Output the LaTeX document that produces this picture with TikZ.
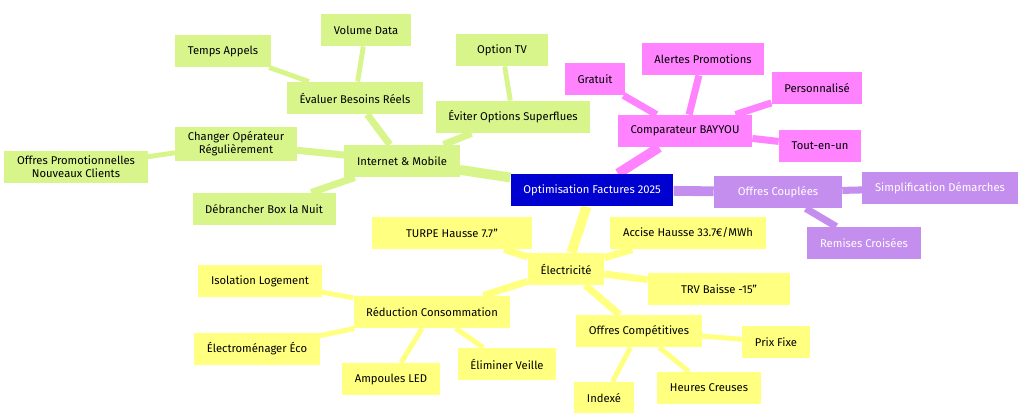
\documentclass[tikz,border=0pt]{standalone}
\usepackage{fontspec}
\setmainfont{Fira Sans}
\usetikzlibrary{backgrounds}
\definecolor{rootblue}{HTML}{0000D0}
\definecolor{mmpurple}{HTML}{C48EEE}
\definecolor{mmpink}{HTML}{FF82FF}
\definecolor{mmgreen}{HTML}{D8F58C}
\definecolor{mmyellow}{HTML}{FFFF80}
\tikzset{
	box/.style = {
		inner xsep=9pt,
		minimum height=23pt,
		align=center,
		font=\fontsize{8}{9.5}\selectfont
	},
	root/.style = {box, fill=rootblue, text=white},
	purple/.style = {box, fill=mmpurple, text=white},
	pink/.style = {box, fill=mmpink},
	green/.style = {box, fill=mmgreen},
	yellow/.style = {box, fill=mmyellow},
	big/.style = {line width=7pt},
	mid/.style = {line width=5pt},
	small/.style = {line width=3.5pt}
}
\begin{document}
\begin{tikzpicture}[x=0.025cm, y=-0.025cm]
	\useasboundingbox (0,0) rectangle (1024,413);
	% root
	\node[root] (root) at (592,190) {Optimisation Factures 2025};
	% comparateur
	\node[pink] (comp) at (685,131) {Comparateur BAYYOU};
	\node[pink] (gratuit) at (595,79) {Gratuit};
	\node[pink] (alertes) at (703,59) {Alertes Promotions};
	\node[pink] (perso) at (817,88) {Personnalisé};
	\node[pink] (tout) at (820,146) {Tout-en-un};
	% offres couplees
	\node[purple, minimum width=128*0.025cm] (couplees) at (778,192) {Offres Couplées};
	\node[purple] (simpl) at (940,188) {Simplification Démarches};
	\node[purple] (remises) at (864,243) {Remises Croisées};
	% internet
	\node[green] (internet) at (402,161) {Internet \& Mobile};
	\node[green] (besoins) at (355,98) {Évaluer Besoins Réels};
	\node[green] (appels) at (223,51) {Temps Appels};
	\node[green] (data) at (366,30) {Volume Data};
	\node[green] (superflues) at (513,117) {Éviter Options Superflues};
	\node[green, minimum width=92*0.025cm] (tv) at (502,50) {Option TV};
	\node[green] (changer) at (236,144) {Changer Opérateur\\Régulièrement};
	\node[green] (promo) at (76,167) {Offres Promotionnelles\\Nouveaux Clients};
	\node[green] (debrancher) at (264,209) {Débrancher Box la Nuit};
	% electricite
	\node[yellow] (elec) at (566,269) {Électricité};
	\node[yellow, minimum width=160*0.025cm] (turpe) at (452,233) {TURPE Hausse 7.7''};
	\node[yellow] (accise) at (688,233) {Accise Hausse 33.7€/MWh};
	\node[yellow, minimum width=142*0.025cm] (trv) at (719,289) {TRV Baisse -15''};
	\node[yellow] (competitives) at (639,331) {Offres Compétitives};
	\node[yellow] (fixe) at (776,342) {Prix Fixe};
	\node[yellow] (creuses) at (709,388) {Heures Creuses};
	\node[yellow] (indexe) at (604,398) {Indexé};
	\node[yellow] (reduction) at (432,312) {Réduction Consommation};
	\node[yellow] (isolation) at (260,281) {Isolation Logement};
	\node[yellow] (electro) at (257,349) {Électroménager Éco};
	\node[yellow] (led) at (391,379) {Ampoules LED};
	\node[yellow] (veille) at (507,364) {Éliminer Veille};

	\begin{pgfonlayer}{background}
		\draw[big, mmpink] (root) -- (comp);
		\draw[big, mmpurple] (root) -- (couplees);
		\draw[big, mmgreen] (root) -- (internet);
		\draw[big, mmyellow] (root) -- (elec);
		\foreach \a/\b in {comp/gratuit, comp/alertes, comp/perso, comp/tout}
			\draw[mid, mmpink] (\a) -- (\b);
		\foreach \a/\b in {couplees/simpl, couplees/remises}
			\draw[mid, mmpurple] (\a) -- (\b);
		\foreach \a/\b in {internet/besoins, internet/superflues, internet/changer, internet/debrancher}
			\draw[mid, mmgreen] (\a) -- (\b);
		\foreach \a/\b in {besoins/appels, besoins/data, superflues/tv, changer/promo}
			\draw[small, mmgreen] (\a) -- (\b);
		\foreach \a/\b in {elec/turpe, elec/accise, elec/trv, elec/competitives, elec/reduction}
			\draw[mid, mmyellow] (\a) -- (\b);
		\foreach \a/\b in {competitives/fixe, competitives/creuses, competitives/indexe, reduction/isolation, reduction/electro, reduction/led, reduction/veille}
			\draw[small, mmyellow] (\a) -- (\b);
	\end{pgfonlayer}
\end{tikzpicture}
\end{document}
